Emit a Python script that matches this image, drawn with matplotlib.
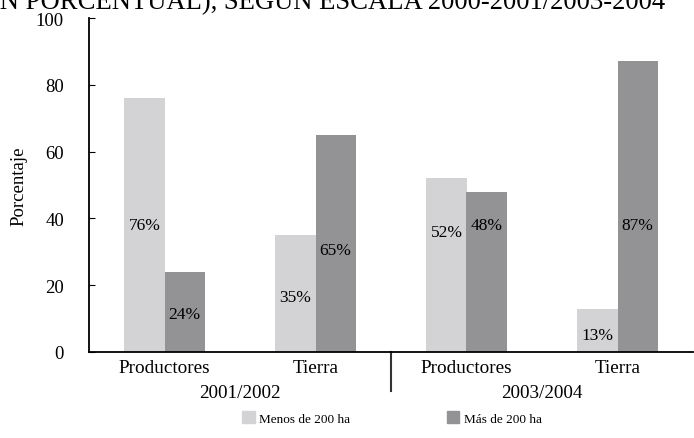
import matplotlib
matplotlib.use("Agg")
import matplotlib.pyplot as plt
from matplotlib.patches import Patch

plt.rcParams["font.family"] = ["Liberation Serif", "DejaVu Serif"]

# Data
categories = ["Productores", "Tierra", "Productores", "Tierra"]
periods = ["2001/2002", "2003/2004"]
series_names = ["Menos de 200 ha", "Más de 200 ha"]
menos_200 = [76, 35, 52, 13]
mas_200 = [24, 65, 48, 87]
# vertical placement of the value labels inside the bars
label_y_menos = [38, 16.5, 36, 5]
label_y_mas = [11.5, 30.5, 38, 38]

title = "DISTRIBUCIÓN PORCENTUAL), SEGÚN ESCALA 2000-2001/2003-2004"

light = "#d3d3d5"
dark = "#939396"

fig = plt.figure(figsize=(6.94, 4.39), dpi=100)
ax = fig.add_axes([89 / 694, 1 - 353 / 439, 604 / 694, 334 / 439])

x = list(range(len(categories)))
w = 0.265
ax.bar([i - w / 2 for i in x], menos_200, width=w, color=light, label=series_names[0])
ax.bar([i + w / 2 for i in x], mas_200, width=w, color=dark, label=series_names[1])

for i in x:
    ax.text(i - w / 2, label_y_menos[i], f"{menos_200[i]}%", ha="center", va="center", fontsize=12.5)
    ax.text(i + w / 2, label_y_mas[i], f"{mas_200[i]}%", ha="center", va="center", fontsize=12.5)

ax.set_xlim(-0.5, 3.5)
ax.set_ylim(0, 100)
ax.set_yticks([0, 20, 40, 60, 80, 100])
ax.tick_params(axis="y", direction="in", length=4, labelsize=13.5, pad=18)
ax.set_xticks(x)
ax.set_xticklabels(categories, fontsize=13.8)
ax.tick_params(axis="x", length=0, pad=5)
for s in ["top", "right"]:
    ax.spines[s].set_visible(False)
for s in ["left", "bottom"]:
    ax.spines[s].set_linewidth(1.3)

ax.set_ylabel("Porcentaje", fontsize=13.5, labelpad=6)

# Period labels and separator
for k, p in enumerate(periods):
    ax.text(0.5 + 2 * k, -0.122, p, transform=ax.get_xaxis_transform(),
            ha="center", va="center", fontsize=13.8)
ax.plot([1.5, 1.5], [0, -0.118], transform=ax.get_xaxis_transform(),
        color="#333333", lw=1.5, clip_on=False)

handles = [Patch(color=light), Patch(color=dark)]
fig.legend(handles, series_names, loc="center", bbox_to_anchor=(0.565, 1 - 419 / 439),
           ncol=2, frameon=False, fontsize=9.5, handlelength=0.95, handleheight=0.95,
           handletextpad=0.35, columnspacing=7.3)

fig.text(665 / 694, 1 - 8 / 439, title, ha="right", va="baseline", fontsize=19.2)

fig.savefig("out.png", dpi=100)
